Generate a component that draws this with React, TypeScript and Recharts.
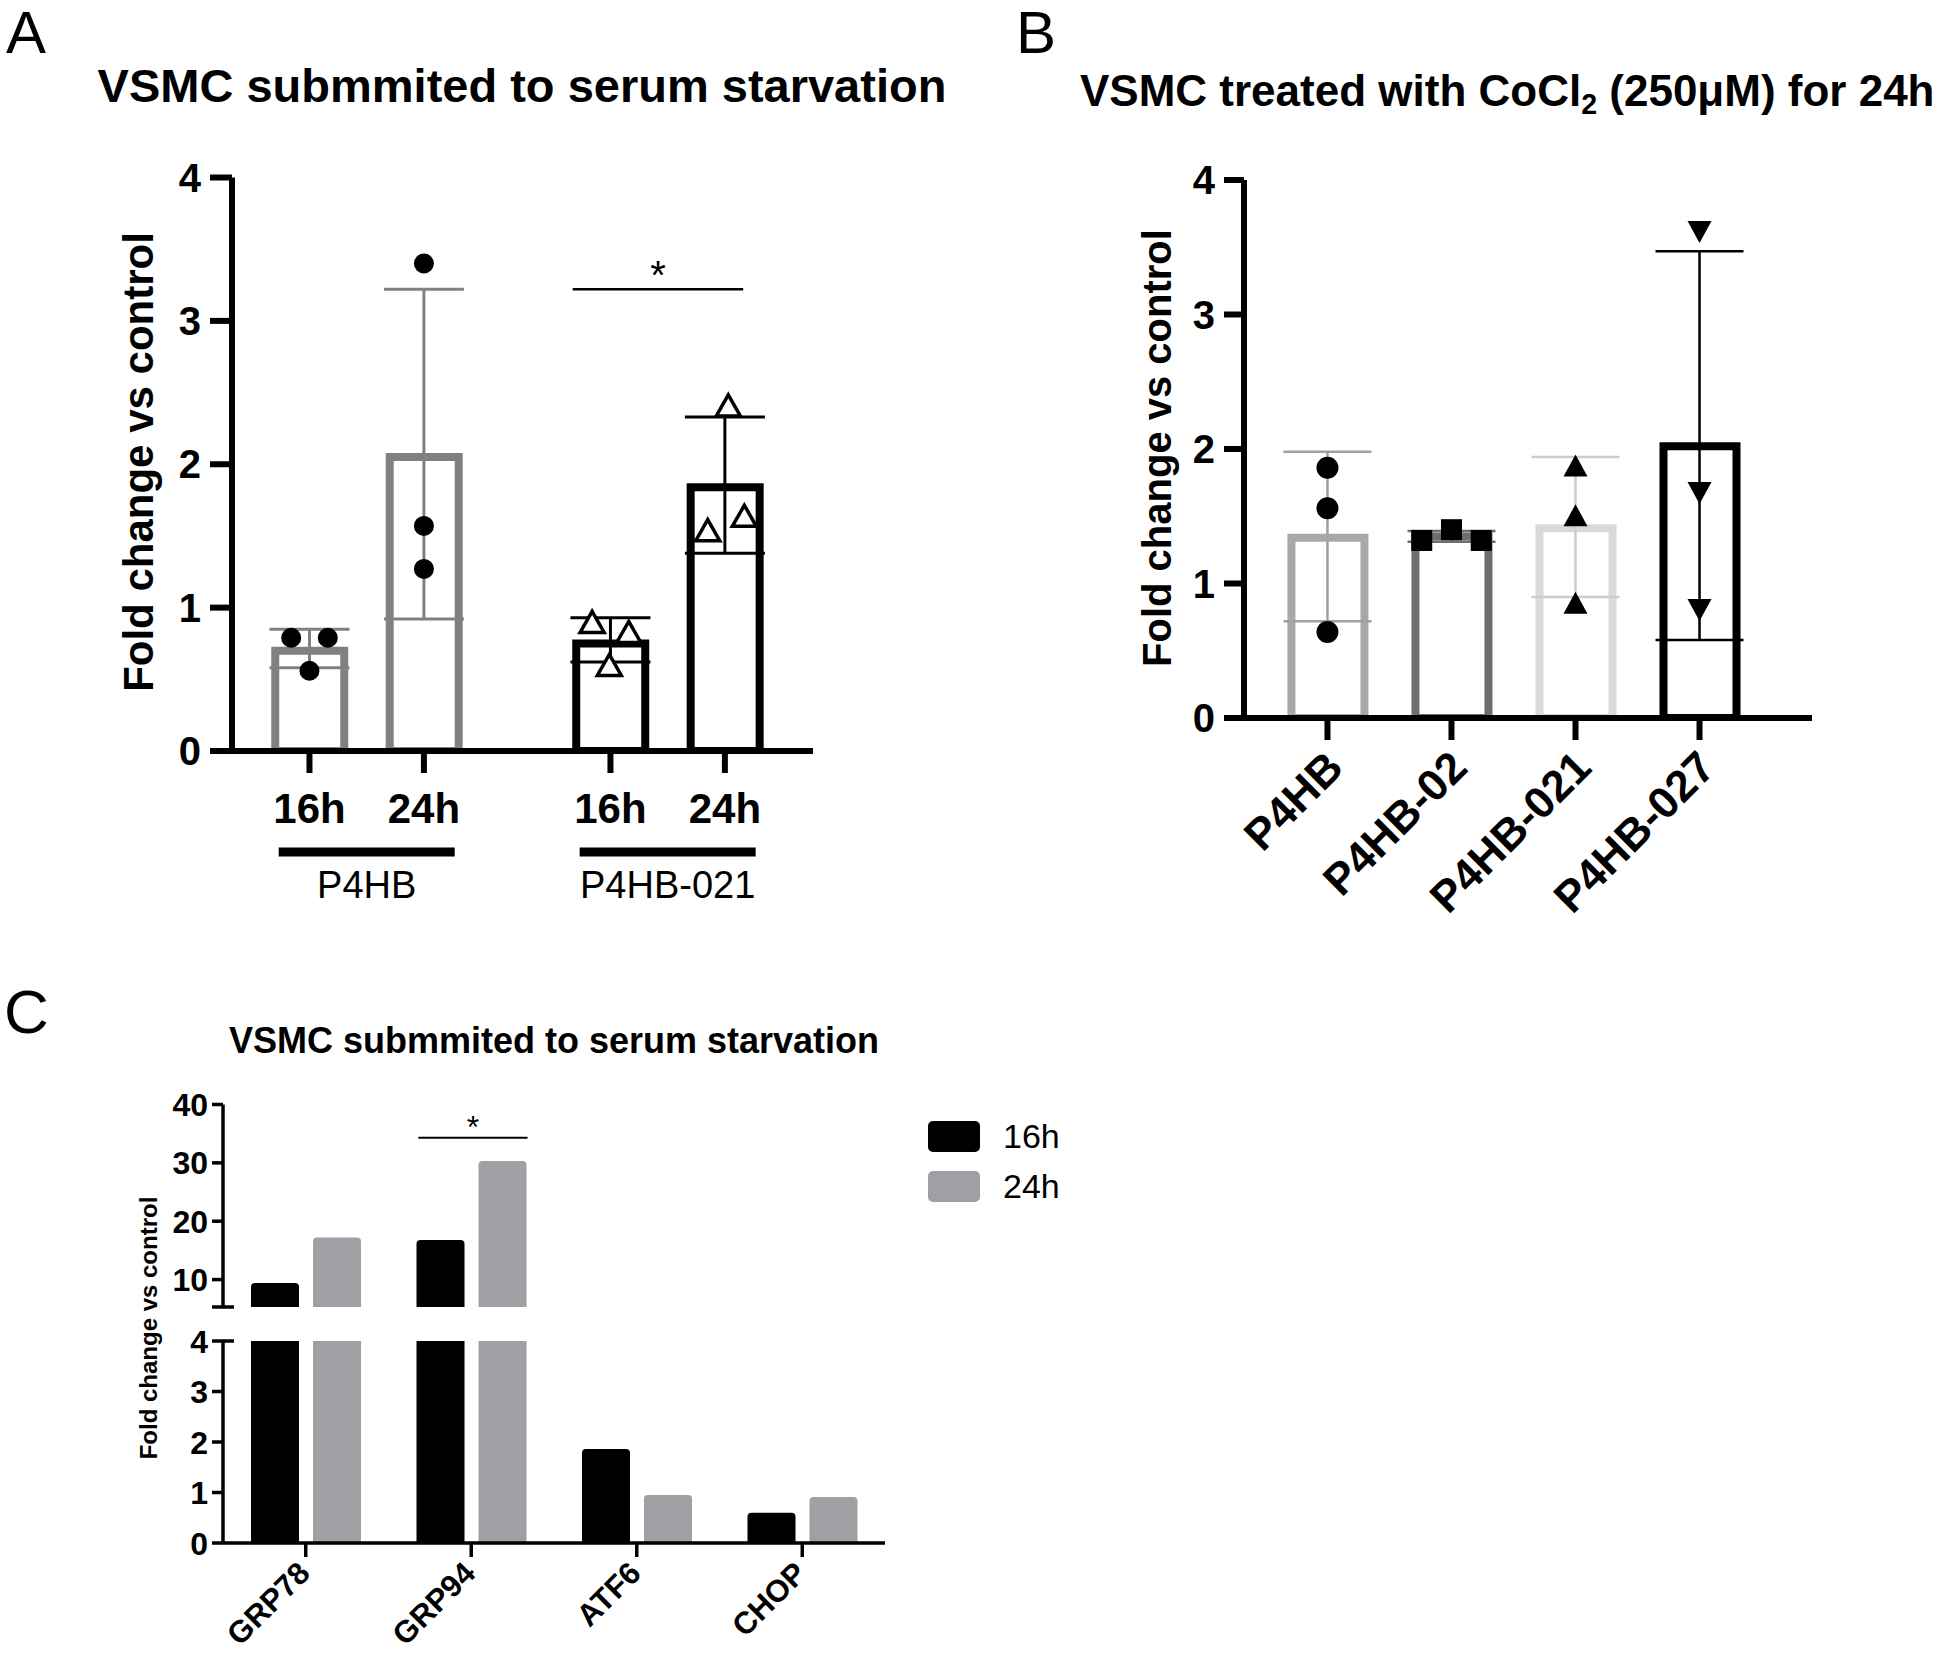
import React from 'react';
import {
  ComposedChart,
  BarChart,
  Bar,
  Cell,
  XAxis,
  YAxis,
  Scatter,
  ErrorBar,
  ReferenceLine,
} from 'recharts';

const FONT = '"Liberation Sans", Arial, Helvetica, sans-serif';

// panel A - serum starvation, P4HB vs P4HB-021
const aX = [1, 2, 3.63, 4.63];
const aHours = ['16h', '24h', '16h', '24h'];
const aGroupX = [1.5, 4.13];
const aGroups = ['P4HB', 'P4HB-021'];
const aMean = [0.7, 2.05, 0.75, 1.84];
const aSdLow = [0.58, 0.92, 0.62, 1.38];
const aSdHigh = [0.85, 3.22, 0.93, 2.33];
const aColor = ['#808080', '#808080', '#000000', '#000000'];
const aDots = [
  { x: 0.84, y: 0.79 },
  { x: 1.16, y: 0.79 },
  { x: 1.0, y: 0.56 },
  { x: 2, y: 3.4 },
  { x: 2, y: 1.57 },
  { x: 2, y: 1.27 },
];
const aTriangles = [
  { x: 3.47, y: 0.89 },
  { x: 3.79, y: 0.82 },
  { x: 3.62, y: 0.59 },
  { x: 4.66, y: 2.4 },
  { x: 4.48, y: 1.53 },
  { x: 4.8, y: 1.63 },
];
const aSig = [
  { x: 3.3, y: 3.22 },
  { x: 4.79, y: 3.22 },
];

// panel B - CoCl2 treatment
const bX = [1, 2, 3, 4];
const bNames = ['P4HB', 'P4HB-02', 'P4HB-021', 'P4HB-027'];
const bMean = [1.34, 1.35, 1.41, 2.02];
const bSdLow = [0.72, 1.31, 0.9, 0.58];
const bSdHigh = [1.98, 1.39, 1.94, 3.47];
const bStroke = ['#a8a8a8', '#6e6e6e', '#d9d9d9', '#000000'];
const bErr = ['#a0a0a0', '#6e6e6e', '#cccccc', '#000000'];
const bCircles = [
  { x: 1, y: 1.86 },
  { x: 1, y: 1.56 },
  { x: 1, y: 0.64 },
];
const bSquares = [
  { x: 1.76, y: 1.32 },
  { x: 2, y: 1.4 },
  { x: 2.24, y: 1.32 },
];
const bUp = [
  { x: 3, y: 1.87 },
  { x: 3, y: 1.5 },
  { x: 3, y: 0.85 },
];
const bDown = [
  { x: 4, y: 3.62 },
  { x: 4, y: 1.68 },
  { x: 4, y: 0.81 },
];

// panel C - ER stress markers
const cPos = [0.5, 1.5, 2.5, 3.5];
const cGenes = ['GRP78', 'GRP94', 'ATF6', 'CHOP'];
const c16h = [9.4, 16.8, 1.86, 0.6];
const c24h = [17.2, 30.3, 0.95, 0.91];
const cSeries = ['16h', '24h'];
const cColors = ['#000000', '#a0a0a4'];
const cSig = [
  { x: 1.18, y: 34.3 },
  { x: 1.84, y: 34.3 },
];

const aBars = aX.map((x, i) => ({
  x,
  mean: aMean[i],
  err: [aMean[i] - aSdLow[i], aSdHigh[i] - aMean[i]],
}));
const bBars = bX.map((x, i) => ({
  x,
  mean: bMean[i],
  err: [bMean[i] - bSdLow[i], bSdHigh[i] - bMean[i]],
}));
const cData = cPos.map((pos, i) => ({ pos, h16: c16h[i], h24: c24h[i] }));

const none = () => <g />;
const dot = (r: number) => (p: any) => <circle cx={p.cx} cy={p.cy} r={r} fill="#000" />;
const openTri = (p: any) => (
  <path
    d={`M${p.cx},${p.cy - 12} L${p.cx + 12},${p.cy + 9} L${p.cx - 12},${p.cy + 9} Z`}
    fill="#fff"
    stroke="#000"
    strokeWidth={3.5}
  />
);
const square = (p: any) => <rect x={p.cx - 10.5} y={p.cy - 10.5} width={21} height={21} fill="#000" />;
const upTri = (p: any) => (
  <path d={`M${p.cx},${p.cy - 12} L${p.cx + 12},${p.cy + 10} L${p.cx - 12},${p.cy + 10} Z`} fill="#000" />
);
const downTri = (p: any) => (
  <path d={`M${p.cx},${p.cy + 12} L${p.cx + 12},${p.cy - 10} L${p.cx - 12},${p.cy - 10} Z`} fill="#000" />
);

function Text({ x, y, size, bold, center, rotate, lh = 1, children }: any) {
  return (
    <div
      style={{
        position: 'absolute',
        left: x,
        top: y,
        fontSize: size,
        fontWeight: bold ? 700 : 400,
        lineHeight: lh,
        whiteSpace: 'nowrap',
        transform: `translate(${center ? '-50%' : '0'}, -50%)${rotate ? ` rotate(${rotate}deg)` : ''}`,
      }}
    >
      {children}
    </div>
  );
}

const GroupTick = (p: any) => {
  const { x, y, payload } = p;
  const label = aGroups[aGroupX.indexOf(payload.value)];
  return (
    <g>
      <line x1={x - 88} x2={x + 88} y1={y + 31} y2={y + 31} stroke="#000" strokeWidth={9} />
      <text x={x} y={y + 77} textAnchor="middle" fontSize={38} fill="#000">
        {label}
      </text>
    </g>
  );
};

const BTick = (p: any) => {
  const { x, y, payload } = p;
  const tx = x + 18;
  const ty = y + 28;
  return (
    <text x={tx} y={ty} transform={`rotate(-45 ${tx} ${ty})`} textAnchor="end" fontSize={44} fontWeight={700} fill="#000">
      {bNames[bX.indexOf(payload.value)]}
    </text>
  );
};

const CTick = (p: any) => {
  const { x, y, payload } = p;
  const tx = x + 6;
  const ty = y + 16;
  return (
    <text x={tx} y={ty} transform={`rotate(-45 ${tx} ${ty})`} textAnchor="end" fontSize={31} fontWeight={700} fill="#000">
      {cGenes[cPos.indexOf(payload.value)]}
    </text>
  );
};

const cYTick = (brk: number, showBrk: boolean) => (p: any) => {
  const { x, y, payload } = p;
  const axisX = x + 15;
  const isBrk = payload.value === brk;
  return (
    <g>
      {isBrk && <line x1={axisX} x2={axisX + 11} y1={y} y2={y} stroke="#000" strokeWidth={3.5} />}
      <text x={x} y={y} dy="0.36em" textAnchor="end" fontSize={32} fontWeight={700} fill="#000">
        {isBrk && !showBrk ? '' : payload.value}
      </text>
    </g>
  );
};

const axisStroke = (w: number) => ({ stroke: '#000', strokeWidth: w });

function PanelA() {
  return (
    <div style={{ position: 'absolute', left: 0, top: 0 }}>
      <ComposedChart width={900} height={940} data={aBars} margin={{ top: 177.5, right: 87, bottom: 39, left: 152 }}>
        <XAxis
          xAxisId="a"
          dataKey="x"
          type="number"
          domain={[0.323, 5.4]}
          ticks={aX}
          interval={0}
          allowDataOverflow
          tickFormatter={(v: number) => aHours[aX.indexOf(v)]}
          height={70}
          tickSize={22}
          tickMargin={20}
          axisLine={axisStroke(6)}
          tickLine={axisStroke(6)}
          tick={{ fill: '#000', fontSize: 42, fontWeight: 700 }}
        />
        <XAxis
          xAxisId="g"
          dataKey="x"
          type="number"
          domain={[0.323, 5.4]}
          ticks={aGroupX}
          interval={0}
          allowDataOverflow
          height={80}
          axisLine={false}
          tickLine={false}
          tickSize={0}
          tickMargin={0}
          tick={(p: any) => <GroupTick {...p} />}
        />
        <XAxis xAxisId="s" dataKey="x" type="number" domain={[0.323, 5.4]} allowDataOverflow hide />
        <YAxis
          yAxisId="v"
          type="number"
          domain={[0, 4]}
          ticks={[0, 1, 2, 3, 4]}
          interval={0}
          allowDataOverflow
          width={80}
          tickSize={22}
          tickMargin={9}
          axisLine={axisStroke(6)}
          tickLine={axisStroke(6)}
          tick={{ fill: '#000', fontSize: 40, fontWeight: 700 }}
        />
        <Bar xAxisId="a" yAxisId="v" dataKey="mean" barSize={69} strokeWidth={8} isAnimationActive={false}>
          {aBars.map((_, i) => (
            <Cell key={i} fill="#fff" stroke={aColor[i]} />
          ))}
        </Bar>
        <Scatter xAxisId="s" yAxisId="v" data={aBars.slice(0, 2)} dataKey="mean" shape={none} isAnimationActive={false}>
          <ErrorBar dataKey="err" direction="y" width={40} stroke="#808080" strokeWidth={3} />
        </Scatter>
        <Scatter xAxisId="s" yAxisId="v" data={aBars.slice(2)} dataKey="mean" shape={none} isAnimationActive={false}>
          <ErrorBar dataKey="err" direction="y" width={40} stroke="#000" strokeWidth={3} />
        </Scatter>
        <Scatter xAxisId="s" yAxisId="v" data={aDots} dataKey="y" shape={dot(10)} isAnimationActive={false} />
        <Scatter xAxisId="s" yAxisId="v" data={aTriangles} dataKey="y" shape={openTri} isAnimationActive={false} />
        <ReferenceLine
          xAxisId="s"
          yAxisId="v"
          segment={aSig}
          stroke="#000"
          strokeWidth={2.5}
          ifOverflow="visible"
          label={{ value: '*', position: 'top', offset: 0, fontSize: 40, fill: '#000' }}
        />
      </ComposedChart>
    </div>
  );
}

function PanelB() {
  const shapes = [dot(11), square, upTri, downTri];
  const pts = [bCircles, bSquares, bUp, bDown];
  return (
    <div style={{ position: 'absolute', left: 1000, top: 0 }}>
      <ComposedChart width={946} height={940} data={bBars} margin={{ top: 180, right: 134, bottom: 22, left: 164 }}>
        <XAxis
          xAxisId="a"
          dataKey="x"
          type="number"
          domain={[0.327, 4.907]}
          ticks={bX}
          interval={0}
          allowDataOverflow
          height={200}
          tickSize={22}
          axisLine={axisStroke(6)}
          tickLine={axisStroke(6)}
          tick={(p: any) => <BTick {...p} />}
        />
        <XAxis xAxisId="s" dataKey="x" type="number" domain={[0.327, 4.907]} allowDataOverflow hide />
        <YAxis
          yAxisId="v"
          type="number"
          domain={[0, 4]}
          ticks={[0, 1, 2, 3, 4]}
          interval={0}
          allowDataOverflow
          width={80}
          tickSize={20}
          tickMargin={9}
          axisLine={axisStroke(6)}
          tickLine={axisStroke(6)}
          tick={{ fill: '#000', fontSize: 40, fontWeight: 700 }}
        />
        <Bar xAxisId="a" yAxisId="v" dataKey="mean" barSize={73} strokeWidth={8} isAnimationActive={false}>
          {bBars.map((_, i) => (
            <Cell key={i} fill="#fff" stroke={bStroke[i]} />
          ))}
        </Bar>
        {bBars.map((row, i) => (
          <Scatter key={'e' + i} xAxisId="s" yAxisId="v" data={[row]} dataKey="mean" shape={none} isAnimationActive={false}>
            <ErrorBar dataKey="err" direction="y" width={44} stroke={bErr[i]} strokeWidth={2.5} />
          </Scatter>
        ))}
        {pts.map((d, i) => (
          <Scatter key={'p' + i} xAxisId="s" yAxisId="v" data={d} dataKey="y" shape={shapes[i]} isAnimationActive={false} />
        ))}
      </ComposedChart>
    </div>
  );
}

function PanelC() {
  return (
    <>
      <div style={{ position: 'absolute', left: 0, top: 1060 }}>
        <BarChart width={1000} height={260} data={cData} margin={{ top: 44.5, right: 115, bottom: 13, left: 123 }} barSize={48} barGap={14}>
          <XAxis dataKey="pos" type="number" domain={[0, 4]} ticks={cPos} allowDataOverflow hide />
          <YAxis
            type="number"
            domain={[5.3, 40]}
            ticks={[5.3, 10, 20, 30, 40]}
            interval={0}
            allowDataOverflow
            width={100}
            tickSize={11}
            tickMargin={4}
            axisLine={axisStroke(3.5)}
            tickLine={axisStroke(3.5)}
            tick={cYTick(5.3, false)}
          />
          <Bar dataKey="h16" fill={cColors[0]} radius={[4, 4, 0, 0]} isAnimationActive={false} />
          <Bar dataKey="h24" fill={cColors[1]} radius={[4, 4, 0, 0]} isAnimationActive={false} />
          <ReferenceLine
            segment={cSig}
            stroke="#000"
            strokeWidth={2}
            ifOverflow="visible"
            label={{ value: '*', position: 'top', offset: 0, fontSize: 32, fill: '#000' }}
          />
        </BarChart>
      </div>
      <div style={{ position: 'absolute', left: 0, top: 1320 }}>
        <BarChart width={1000} height={336} data={cData} margin={{ top: 21, right: 115, bottom: 0, left: 123 }} barSize={48} barGap={14}>
          <XAxis
            dataKey="pos"
            type="number"
            domain={[0, 4]}
            ticks={cPos}
            interval={0}
            allowDataOverflow
            height={113}
            tickSize={14}
            axisLine={axisStroke(3.5)}
            tickLine={axisStroke(3.5)}
            tick={(p: any) => <CTick {...p} />}
          />
          <YAxis
            type="number"
            domain={[0, 4]}
            ticks={[0, 1, 2, 3, 4]}
            interval={0}
            allowDataOverflow
            width={100}
            tickSize={11}
            tickMargin={4}
            axisLine={axisStroke(3.5)}
            tickLine={axisStroke(3.5)}
            tick={cYTick(4, true)}
          />
          <Bar dataKey="h16" fill={cColors[0]} radius={[4, 4, 0, 0]} isAnimationActive={false} />
          <Bar dataKey="h24" fill={cColors[1]} radius={[4, 4, 0, 0]} isAnimationActive={false} />
        </BarChart>
      </div>
      {cSeries.map((s, i) => (
        <React.Fragment key={s}>
          <div
            style={{
              position: 'absolute',
              left: 928,
              top: 1121 + i * 50,
              width: 52,
              height: 31,
              background: cColors[i],
              borderRadius: 5,
            }}
          />
          <Text x={1003} y={1136 + i * 50} size={34}>
            {s}
          </Text>
        </React.Fragment>
      ))}
    </>
  );
}

export default function App() {
  return (
    <div
      style={{
        position: 'absolute',
        left: 0,
        top: 0,
        width: 1946,
        height: 1656,
        background: '#fff',
        color: '#000',
        fontFamily: FONT,
        overflow: 'hidden',
      }}
    >
      <Text x={6} y={33} size={60} lh={0.8}>A</Text>
      <Text x={1016} y={33} size={60} lh={0.8}>B</Text>
      <Text x={4} y={1012} size={62} lh={0.8}>C</Text>
      <Text x={522} y={85} size={47} bold center>
        VSMC submmited to serum starvation
      </Text>
      <Text x={1080} y={94} size={44} bold>
        VSMC treated with CoCl<sub style={{ fontSize: '0.65em', verticalAlign: '-0.3em' }}>2</sub> (250μM) for 24h
      </Text>
      <Text x={554} y={1041} size={36} bold center>
        VSMC submmited to serum starvation
      </Text>
      <Text x={139} y={462} size={42} bold center rotate={-90}>
        Fold change vs control
      </Text>
      <Text x={1157} y={448} size={40} bold center rotate={-90}>
        Fold change vs control
      </Text>
      <Text x={149} y={1328} size={24} bold center rotate={-90}>
        Fold change vs control
      </Text>
      <PanelA />
      <PanelB />
      <PanelC />
    </div>
  );
}
